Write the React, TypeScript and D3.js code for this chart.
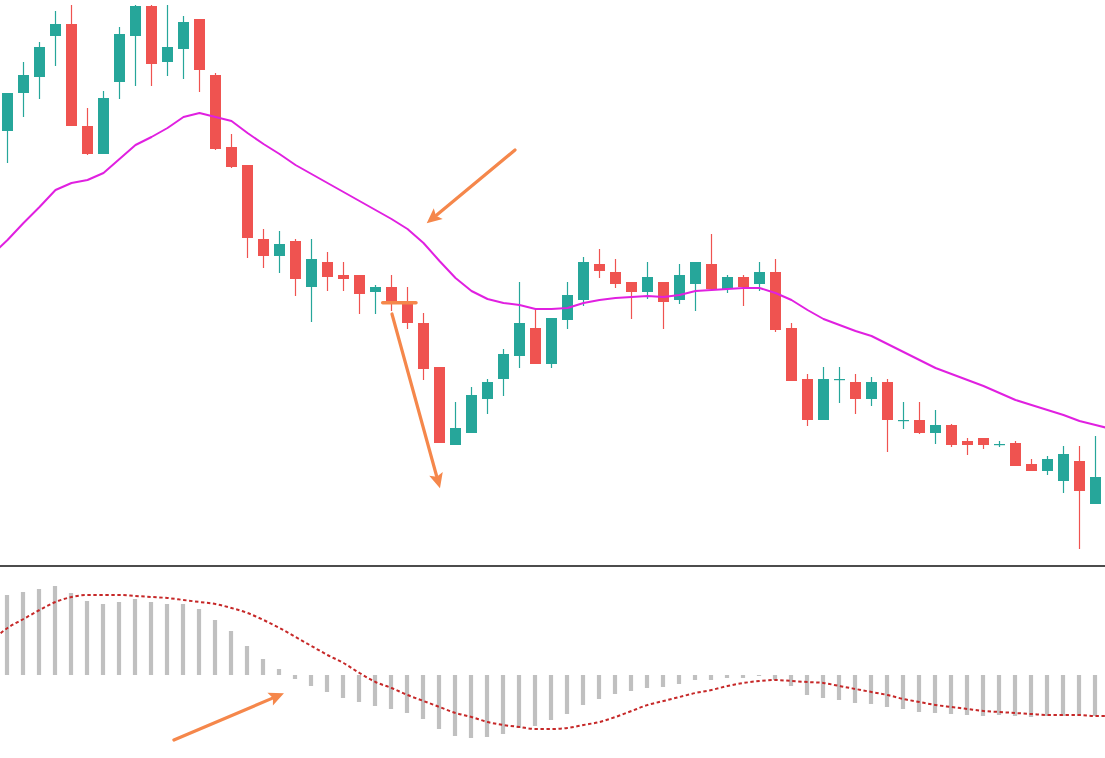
import * as d3 from 'd3';

// OHLC, one entry per candle (index 0..68), price in chart points
const opens = [435, 473, 489, 530, 542, 440, 412, 484, 530, 560, 504, 517, 547, 491, 419, 401, 327, 310, 325, 279, 304, 291, 291, 274, 279, 263, 243, 199, 121, 133, 167, 187, 210, 238, 202, 246, 266, 302, 294, 284, 274, 284, 266, 282, 302, 277, 289, 282, 294, 238, 187, 146, 187, 184, 167, 184, 146, 146, 133, 141, 125, 128, 122, 123, 102, 95, 85, 105, 62];
const highs = [473, 504, 524, 555, 561, 458, 475, 539, 561, 561, 561, 550, 547, 493, 432, 401, 337, 335, 327, 327, 314, 304, 291, 281, 291, 279, 253, 199, 164, 179, 187, 217, 284, 258, 248, 284, 309, 317, 307, 284, 304, 284, 302, 304, 332, 291, 291, 304, 307, 243, 192, 199, 199, 192, 189, 187, 164, 164, 156, 142, 128, 128, 125, 125, 107, 110, 120, 120, 130];
const lows = [403, 449, 467, 500, 440, 411, 412, 467, 480, 480, 490, 487, 474, 416, 398, 308, 298, 293, 270, 244, 275, 275, 252, 252, 255, 237, 186, 123, 121, 133, 152, 170, 198, 202, 198, 237, 260, 288, 278, 247, 267, 237, 262, 255, 277, 273, 260, 275, 234, 185, 140, 146, 163, 152, 160, 114, 137, 132, 122, 119, 111, 117, 119, 100, 95, 91, 73, 17, 62];
const closes = [473, 491, 519, 542, 440, 412, 468, 532, 560, 502, 519, 544, 496, 417, 399, 328, 310, 322, 287, 307, 289, 287, 272, 279, 264, 243, 197, 123, 138, 171, 184, 212, 243, 202, 248, 271, 304, 295, 282, 274, 289, 264, 291, 304, 277, 289, 279, 294, 236, 185, 146, 187, 187, 167, 184, 146, 146, 133, 141, 121, 121, 121, 122, 100, 95, 107, 112, 75, 89];

// moving average, indices -1..69 (one point either side of the visible candles)
const movingAvg = [311, 326, 343, 359, 376, 383, 386, 393, 407, 421, 429, 438, 449, 453, 449, 445, 433, 422, 412, 401, 392, 383, 374, 365, 356, 347, 337, 323, 305, 288, 275, 267, 263, 261, 257, 257, 258, 263, 266, 268, 269, 270, 269, 271, 275, 276, 277, 278, 278, 273, 266, 256, 247, 241, 235, 230, 222, 214, 206, 198, 192, 186, 180, 173, 166, 161, 156, 151, 145, 141, 137];

// oscillator histogram (index 0..68)
const histogram = [80, 83, 86, 89, 82, 74, 71, 73, 76, 73, 71, 71, 66, 55, 44, 29, 16, 6, -4, -11, -17, -23, -27, -31, -34, -38, -44, -54, -61, -63, -62, -59, -53, -51, -45, -39, -30, -24, -19, -16, -13, -12, -9, -5, -5, -3, -3, -1, -5, -11, -20, -23, -25, -28, -29, -32, -34, -37, -38, -39, -40, -41, -40, -41, -42, -41, -41, -41, -41];

// signal line, indices -1..69
const signal = [34, 47, 56, 65, 73, 78, 80, 80, 80, 79, 78, 77, 75, 73, 71, 67, 62, 55, 47, 38, 29, 20, 12, 2, -7, -13, -20, -26, -32, -38, -42, -47, -50, -52, -54, -54, -53, -50, -47, -42, -36, -30, -26, -22, -18, -15, -11, -8, -6, -5, -6, -7, -8, -11, -14, -17, -20, -24, -27, -30, -32, -34, -36, -37, -38, -39, -40, -40, -40, -41, -41];

// annotations in data coordinates [index, value]
const topArrows = [
  { from: [31.72, 416], to: [26.2, 342.7] },
  { from: [24.03, 252], to: [27.03, 77.7] },
];
const levelMark = { from: [23.45, 263.3], to: [25.53, 263.3] };
const bottomArrows = [{ from: [10.4, -65], to: [17.28, -18.3] }];

const W = 1105;
const H = 758;
const PANEL_Y = 566;
const UP = '#26a69a';
const DOWN = '#ef5350';
const ORANGE = '#f5874b';

function Arrow({ x1, y1, x2, y2 }) {
  const ang = Math.atan2(y2 - y1, x2 - x1);
  const len = 15;
  const half = 7;
  const bx = x2 - len * Math.cos(ang);
  const by = y2 - len * Math.sin(ang);
  const px = -Math.sin(ang) * half;
  const py = Math.cos(ang) * half;
  return (
    <g>
      <line x1={x1} y1={y1} x2={bx + 2 * Math.cos(ang)} y2={by + 2 * Math.sin(ang)} stroke={ORANGE} strokeWidth={3.2} strokeLinecap="round" />
      <path d={`M${x2},${y2}L${bx + px},${by + py}L${bx + 3 * Math.cos(ang)},${by + 3 * Math.sin(ang)}L${bx - px},${by - py}Z`} fill={ORANGE} />
    </g>
  );
}

export default function App() {
  const x = d3.scaleLinear().domain([0, 68]).range([7.5, 1095.5]);
  const y = d3.scaleLinear().domain([0, 566]).range([PANEL_Y, 0]);
  const y2 = d3.scaleLinear().domain([0, 100]).range([675, 575]);

  const maPath = d3
    .line<number>()
    .x((_, i) => x(i - 1))
    .y((d) => y(d))(movingAvg);
  const sigPath = d3
    .line<number>()
    .x((_, i) => x(i - 1))
    .y((d) => y2(d))
    .curve(d3.curveMonotoneX)(signal);

  const bodyW = 11;
  const barW = 4.2;

  return (
    <svg width={W} height={H} style={{ position: 'absolute', left: 0, top: 0, display: 'block', background: '#fff' }}>
      <defs>
        <clipPath id="top">
          <rect x={0} y={0} width={W} height={PANEL_Y} />
        </clipPath>
        <clipPath id="bottom">
          <rect x={0} y={PANEL_Y + 1} width={W} height={H - PANEL_Y} />
        </clipPath>
      </defs>

      <g clipPath="url(#top)">
        {opens.map((o, i) => {
          const c = closes[i];
          const col = c >= o ? UP : DOWN;
          const top = y(Math.max(o, c));
          const bot = y(Math.min(o, c));
          return (
            <g key={i}>
              <line x1={x(i)} x2={x(i)} y1={y(highs[i])} y2={y(lows[i])} stroke={col} strokeWidth={1.2} />
              <rect x={x(i) - bodyW / 2} y={top} width={bodyW} height={Math.max(1.2, bot - top)} fill={col} />
            </g>
          );
        })}
        <path d={maPath} fill="none" stroke="#e020e0" strokeWidth={2} strokeLinejoin="round" />
      </g>

      <line x1={0} x2={W} y1={PANEL_Y} y2={PANEL_Y} stroke="#111" strokeWidth={1.5} />

      <g clipPath="url(#bottom)">
        {histogram.map((v, i) => (
          <rect
            key={i}
            x={x(i) - barW / 2 - 0.5}
            y={Math.min(y2(v), y2(0))}
            width={barW}
            height={Math.abs(y2(v) - y2(0))}
            fill="#c0c0c0"
          />
        ))}
        <path d={sigPath} fill="none" stroke="#c62828" strokeWidth={2} strokeDasharray="3.4 2.6" />
      </g>

      <line
        x1={x(levelMark.from[0])}
        x2={x(levelMark.to[0])}
        y1={y(levelMark.from[1])}
        y2={y(levelMark.to[1])}
        stroke={ORANGE}
        strokeWidth={3.5}
        strokeLinecap="round"
      />
      {topArrows.map((a, i) => (
        <Arrow key={i} x1={x(a.from[0])} y1={y(a.from[1])} x2={x(a.to[0])} y2={y(a.to[1])} />
      ))}
      {bottomArrows.map((a, i) => (
        <Arrow key={i} x1={x(a.from[0])} y1={y2(a.from[1])} x2={x(a.to[0])} y2={y2(a.to[1])} />
      ))}
    </svg>
  );
}
